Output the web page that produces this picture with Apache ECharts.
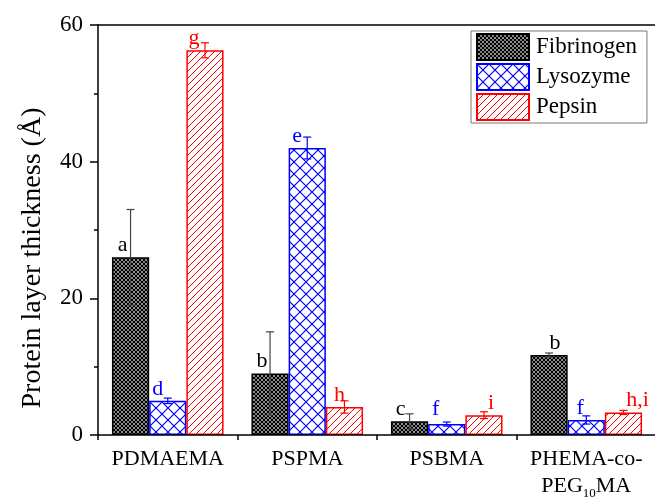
<!DOCTYPE html>
<html>
<head>
<meta charset="utf-8">
<script src="https://cdn.jsdelivr.net/npm/echarts@6/dist/echarts.min.js"></script>
<style>html,body{margin:0;padding:0;background:#fff}#c{width:655px;height:502px}</style>
</head>
<body>
<div id="c"></div>
<script>
// ---- data ----
const categories = ['PDMAEMA', 'PSPMA', 'PSBMA', 'PHEMA-co-\nPEG{sub|10}MA'];
const seriesNames = ['Fibrinogen', 'Lysozyme', 'Pepsin'];
const fibrinogen = [26.0, 9.0, 2.0, 11.7];
const fibrinogenErr = [7.0, 6.1, 1.1, 0.3];
const lysozyme = [5.0, 42.0, 1.6, 2.2];
const lysozymeErr = [0.4, 1.6, 0.3, 0.6];
const pepsin = [56.3, 4.1, 2.9, 3.3];
const pepsinErr = [1.1, 0.9, 0.5, 0.3];
const fibrinogenLetters = ['a', 'b', 'c', 'b'];
const lysozymeLetters = ['d', 'e', 'f', 'f'];
const pepsinLetters = ['g', 'h', 'i', 'h,i'];
const yTicks = [0, 20, 40, 60];

// ---- styling / layout ----
const FONT = 'Liberation Serif';
const colors = ['#000000', '#0000ff', '#ff0000'];
const errColors = ['#444444', '#0000ff', '#ff0000'];
const letterOffsets = [
  [[-8, 0], [-8, 0], [-9, 0], [6, 0]],
  [[-10, 0], [-10, 0], [-11, -3], [-6, 0]],
  [[-11, 0], [-5, 0], [7, 0], [14, 0]]
];

function makePattern(kind) {
  const c = document.createElement('canvas');
  let s;
  if (kind === 0) {
    s = 4; c.width = s; c.height = s;
    const g = c.getContext('2d');
    g.fillStyle = '#fff'; g.fillRect(0, 0, s, s);
    g.strokeStyle = '#000'; g.lineWidth = 1.3;
    for (const o of [-s, 0, s]) {
      g.beginPath(); g.moveTo(o, 0); g.lineTo(o + s, s); g.stroke();
      g.beginPath(); g.moveTo(o, s); g.lineTo(o + s, 0); g.stroke();
    }
  } else if (kind === 1) {
    s = 12; c.width = s; c.height = s;
    const g = c.getContext('2d');
    g.fillStyle = '#fff'; g.fillRect(0, 0, s, s);
    g.strokeStyle = '#0000ff'; g.lineWidth = 1.2;
    for (const o of [-s, 0, s]) {
      g.beginPath(); g.moveTo(o, 0); g.lineTo(o + s, s); g.stroke();
      g.beginPath(); g.moveTo(o, s); g.lineTo(o + s, 0); g.stroke();
    }
  } else {
    s = 7; c.width = s; c.height = s;
    const g = c.getContext('2d');
    g.fillStyle = '#fff'; g.fillRect(0, 0, s, s);
    g.strokeStyle = '#ff0000'; g.lineWidth = 1;
    for (const o of [-s, 0, s]) {
      g.beginPath(); g.moveTo(o, s); g.lineTo(o + s, 0); g.stroke();
    }
  }
  return { image: c, repeat: 'repeat' };
}

const values = [fibrinogen, lysozyme, pepsin];
const errs = [fibrinogenErr, lysozymeErr, pepsinErr];
const letters = [fibrinogenLetters, lysozymeLetters, pepsinLetters];
const GAP = 0.2;

const barSeries = seriesNames.map((name, k) => ({
  name,
  type: 'bar',
  xAxisIndex: 0,
  barGap: '0%',
  barCategoryGap: (GAP * 100) + '%',
  itemStyle: { color: makePattern(k), borderColor: colors[k], borderWidth: 1.5 },
  emphasis: { disabled: true },
  z: 2,
  data: values[k].map((v, i) => ({
    value: v,
    label: {
      show: true,
      position: 'top',
      distance: 1,
      offset: letterOffsets[k][i],
      formatter: letters[k][i],
      color: colors[k],
      fontFamily: FONT,
      fontSize: 22
    }
  }))
}));

const errSeries = seriesNames.map((name, k) => ({
  type: 'custom',
  xAxisIndex: 0,
  z: 5,
  silent: true,
  data: values[k].map((v, i) => [i, v, errs[k][i]]),
  encode: { x: 0, y: 1 },
  renderItem: function (params, api) {
    const ci = api.value(0), v = api.value(1), e = api.value(2);
    const band = api.size([1, 0])[0];
    const bw = band * (1 - GAP) / 3;
    const off = (k - 1) * bw;
    const t = api.coord([ci, v + e]);
    const b = api.coord([ci, v - e]);
    const x = t[0] + off;
    const cap = 4;
    const st = { stroke: errColors[k], lineWidth: 1.2 };
    return {
      type: 'group',
      children: [
        { type: 'line', shape: { x1: x, y1: t[1], x2: x, y2: b[1] }, style: st },
        { type: 'line', shape: { x1: x - cap, y1: t[1], x2: x + cap, y2: t[1] }, style: st },
        { type: 'line', shape: { x1: x - cap, y1: b[1], x2: x + cap, y2: b[1] }, style: st }
      ]
    };
  }
}));

const chart = echarts.init(document.getElementById('c'), null, { renderer: 'canvas' });
chart.setOption({
  backgroundColor: '#ffffff',
  animation: false,
  grid: { left: 98, right: -1, top: 25, bottom: 67, containLabel: false, outerBoundsMode: 'none' },
  legend: {
    orient: 'vertical',
    left: 471,
    top: 31,
    itemWidth: 52,
    itemHeight: 26,
    itemGap: 2,
    icon: 'rect',
    padding: [2, 10, 2, 5],
    borderColor: '#777',
    borderWidth: 1,
    backgroundColor: '#fff',
    textStyle: { fontFamily: FONT, fontSize: 23, color: '#000', padding: [0, 0, 0, 2] },
    data: seriesNames
  },
  xAxis: [
    {
      type: 'category',
      data: categories,
      axisLine: { lineStyle: { color: '#000', width: 1.5 } },
      axisTick: { alignWithLabel: true, interval: 0, length: 8, lineStyle: { color: '#000', width: 1.5 } },
      axisLabel: {
        interval: 0,
        fontFamily: FONT, fontSize: 22, color: '#000', margin: 11, lineHeight: 27,
        rich: { sub: { fontFamily: FONT, fontSize: 13, color: '#000', verticalAlign: 'bottom', lineHeight: 27, padding: [12, 0, 0, 0] } }
      },
      z: 10
    },
    {
      type: 'category',
      data: categories,
      position: 'bottom',
      axisLine: { show: false },
      axisTick: { show: true, interval: 0, length: 5, lineStyle: { color: '#000', width: 1.5 } },
      axisLabel: { show: false }
    },
    {
      type: 'category',
      data: categories,
      position: 'top',
      axisLine: { show: true, lineStyle: { color: '#000', width: 1.5 } },
      axisTick: { show: false },
      axisLabel: { show: false }
    }
  ],
  yAxis: {
    type: 'value',
    min: yTicks[0],
    max: yTicks[yTicks.length - 1],
    interval: yTicks[1] - yTicks[0],
    name: 'Protein layer thickness (Å)',
    nameLocation: 'middle',
    nameGap: 51,
    nameTextStyle: { fontFamily: FONT, fontSize: 28, color: '#000', padding: [0, 56, 0, 0] },
    axisLine: { show: true, lineStyle: { color: '#000', width: 1.5 } },
    axisTick: { show: true, length: 8, lineStyle: { color: '#000', width: 1.5 } },
    minorTick: { show: true, splitNumber: 2, length: 4, lineStyle: { color: '#000', width: 1.5 } },
    axisLabel: { fontFamily: FONT, fontSize: 23, color: '#000', margin: 15 },
    splitLine: { show: false }
  },
  series: barSeries.concat(errSeries)
});
</script>
</body>
</html>
